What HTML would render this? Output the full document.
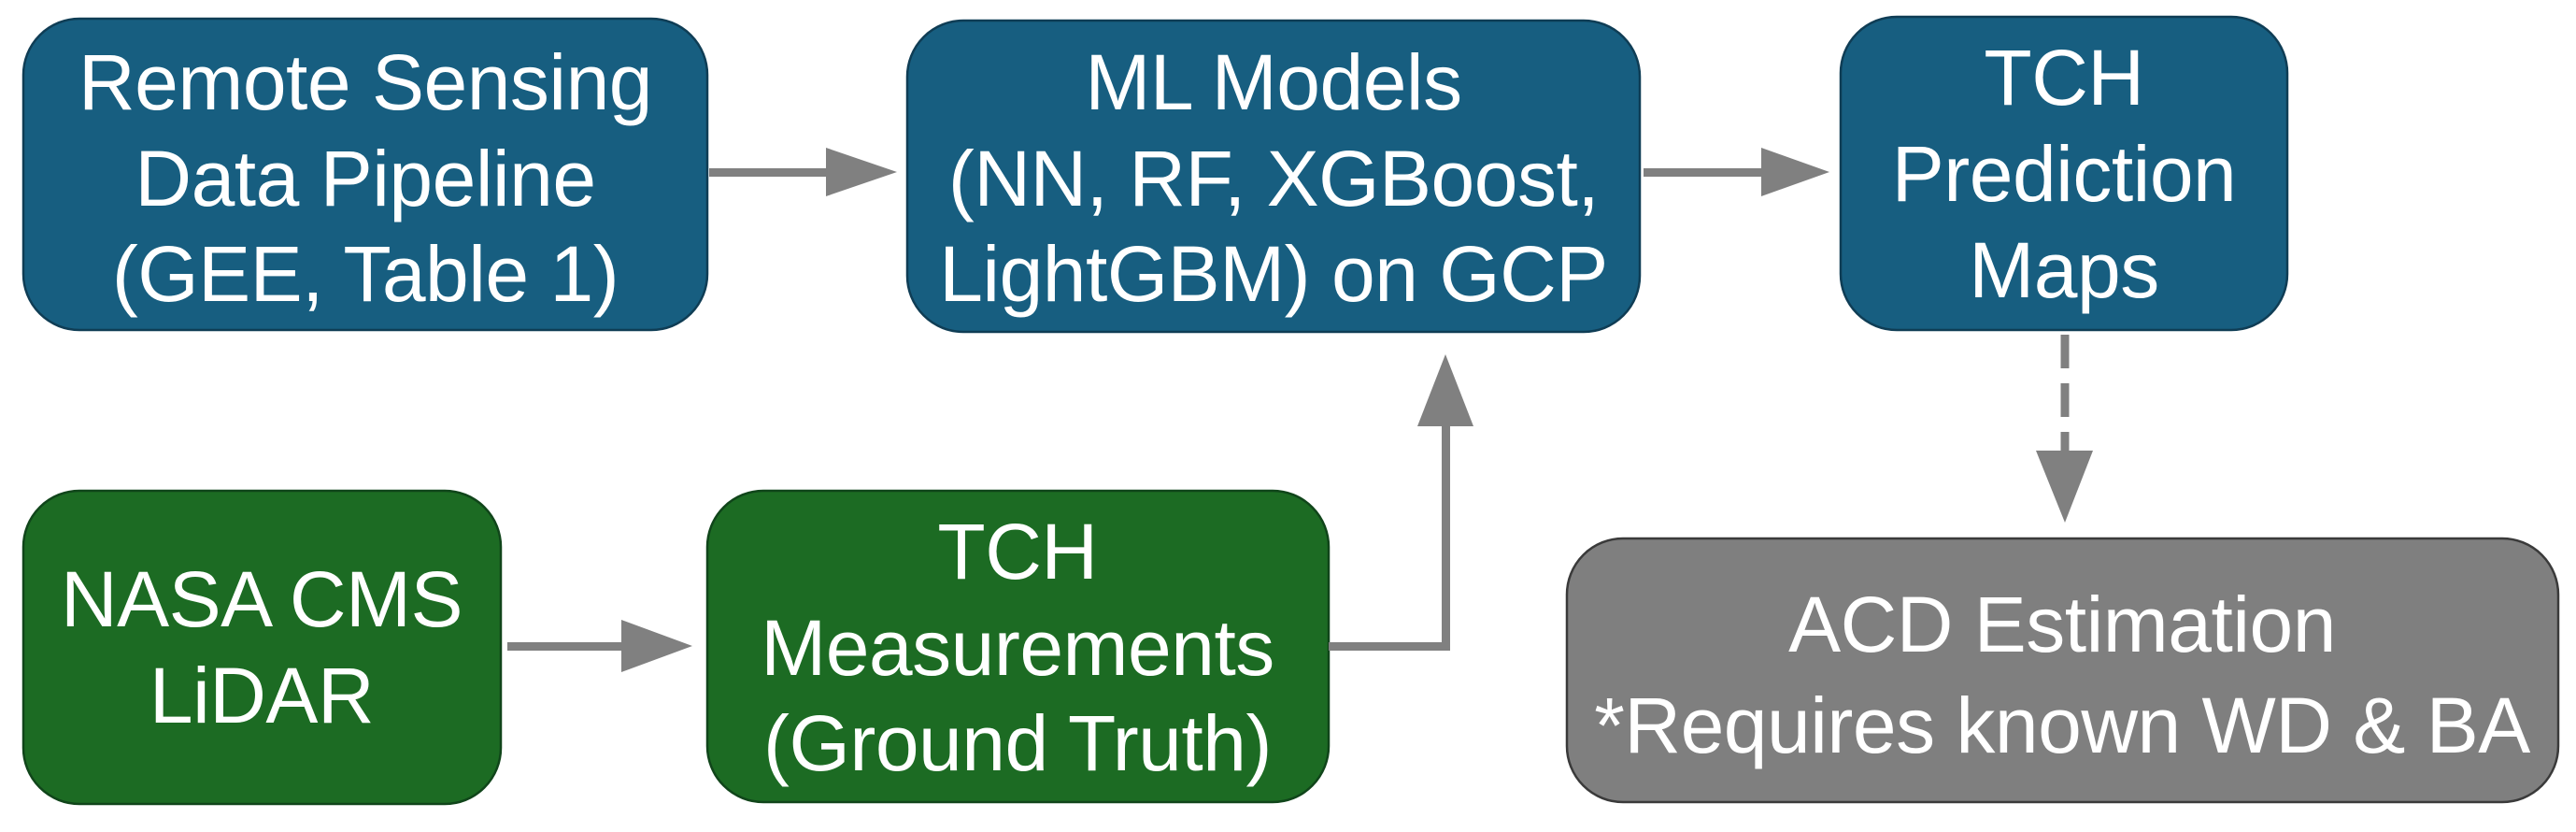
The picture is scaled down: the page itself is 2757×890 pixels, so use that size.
<!DOCTYPE html>
<html><head><meta charset="utf-8"><style>
html,body{margin:0;padding:0;background:#fff;}
svg{display:block;}
text{font-family:"Liberation Sans",sans-serif;fill:#fff;font-size:84px;text-anchor:middle;letter-spacing:-0.5px;}
</style></head><body>
<svg width="2757" height="890" viewBox="0 0 2757 890" xmlns="http://www.w3.org/2000/svg">
<g stroke="#0f3d55" stroke-width="2.5">
<rect x="25" y="20" width="732" height="333" rx="60" fill="#175E80"/>
<rect x="971" y="22" width="784" height="333" rx="60" fill="#175E80"/>
<rect x="1970" y="18" width="478" height="335" rx="60" fill="#175E80"/>
</g>
<g stroke="#10451a" stroke-width="2.5">
<rect x="25" y="525" width="511" height="335" rx="60" fill="#1C6B23"/>
<rect x="757" y="525" width="665" height="333" rx="60" fill="#1C6B23"/>
</g>
<rect x="1677" y="576" width="1061" height="282" rx="60" fill="#7F7F7F" stroke="#3a3a3a" stroke-width="2.5"/>
<g fill="#808080" stroke="none">
<rect x="759" y="180" width="127" height="9"/>
<polygon points="884,158 960,184 884,210"/>
<rect x="1759" y="180" width="128" height="9"/>
<polygon points="1885,158 1958,184 1885,210"/>
<rect x="543" y="687" width="124" height="9"/>
<polygon points="665,663 741,691 665,719"/>
<rect x="1422" y="687" width="130" height="9"/>
<rect x="1543" y="452" width="9" height="244"/>
<polygon points="1517,456 1547,379 1577,456"/>
<polygon points="2179,482 2210,559 2240,482"/>
</g>
<line x1="2210" y1="358" x2="2210" y2="482" stroke="#808080" stroke-width="9" stroke-dasharray="36,16"/>
<text x="391" y="117">Remote Sensing</text>
<text x="391" y="220">Data Pipeline</text>
<text x="391" y="322">(GEE, Table 1)</text>
<text x="1363" y="117">ML Models</text>
<text x="1363" y="220">(NN, RF, XGBoost,</text>
<text x="1363" y="322">LightGBM) on GCP</text>
<text x="2209" y="112">TCH</text>
<text x="2209" y="215">Prediction</text>
<text x="2209" y="318">Maps</text>
<text x="280" y="670">NASA CMS</text>
<text x="280" y="773">LiDAR</text>
<text x="1089" y="619">TCH</text>
<text x="1089" y="722">Measurements</text>
<text x="1089" y="824">(Ground Truth)</text>
<text x="2207" y="697">ACD Estimation</text>
<text x="2207" y="805">*Requires known WD &amp; BA</text>
</svg>
</body></html>
